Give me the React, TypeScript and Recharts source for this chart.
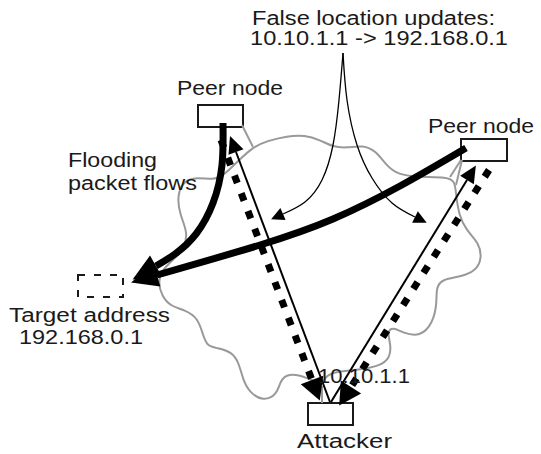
import { ComposedChart, XAxis, YAxis, Line, Scatter, ReferenceArea } from 'recharts';

type Pt = { x: number; y: number };
const pts = (a: number[][]): Pt[] => a.map(([x, y]) => ({ x, y }));

// gray outline of the network area
const CLOUD = pts([
  [253, 147], [267, 141], [287, 136], [305, 135], [320, 140], [333, 147], [347, 148],
  [363, 145], [376, 151], [386, 165], [398, 175], [420, 177], [447, 177], [455, 181],
  [456, 195], [459, 215], [466, 230], [479, 243], [482, 258], [476, 271], [460, 277],
  [443, 279], [436, 287], [437, 303], [433, 323], [420, 337], [403, 333], [393, 327],
  [387, 332], [391, 345], [390, 358], [380, 366], [357, 370], [333, 372], [325, 377],
  [322, 386], [307, 377], [288, 373], [280, 381], [277, 395], [263, 401], [250, 393],
  [243, 380], [239, 363], [232, 352], [217, 348], [207, 346], [203, 335], [198, 318],
  [185, 310], [170, 306], [162, 296], [158, 283], [162, 270], [173, 260], [184, 249],
  [188, 233], [180, 215], [177, 197], [183, 181], [197, 177], [213, 180], [223, 176],
  [238, 161],
]);
const TETHERS = [
  pts([[242, 125], [253, 147]]),
  pts([[461, 160], [450, 177]]),
  pts([[462, 160], [456, 185]]),
  pts([[322, 386], [322, 403]]),
];

// thick flooding flows (end = arrow base)
const FLOOD_TOP = pts([[223, 123], [222, 165], [213, 203], [196, 234], [175, 254], [156, 266]]);
const FLOOD_RIGHT = pts([[466, 148], [400, 186], [333, 219], [260, 245], [157, 275]]);

// false location update arrows from the label
const UPDATE_LEFT = pts([[343, 53], [339, 100], [333, 145], [322, 180], [305, 202], [283, 214]]);
const UPDATE_RIGHT = pts([[343, 53], [347, 100], [357, 145], [372, 178], [392, 203], [415, 217]]);

// attacker -> peers (thin)
const SPOOF_TOP = pts([[330, 402], [236, 152]]);
const SPOOF_RIGHT = pts([[331, 402], [467, 180]]);

// peers -> attacker (dashed)
const REPLY_TOP = pts([[221, 140], [312, 380]]);
const REPLY_RIGHT = pts([[489, 170], [351, 387]]);

const NODES = [
  { name: 'peerTop', x1: 198, x2: 243, y1: 105, y2: 127, dashed: false },
  { name: 'peerRight', x1: 461, x2: 507, y1: 139, y2: 161, dashed: false },
  { name: 'attacker', x1: 308, x2: 353, y1: 403, y2: 425, dashed: false },
  { name: 'target', x1: 78, x2: 123, y1: 275, y2: 297, dashed: true },
];

const LABELS = [
  { text: 'False location updates:', x: 252, y: 25 },
  { text: '10.10.1.1 -> 192.168.0.1', x: 250, y: 45 },
  { text: 'Peer node', x: 177, y: 95 },
  { text: 'Peer node', x: 428, y: 133 },
  { text: 'Flooding', x: 68, y: 167 },
  { text: 'packet flows', x: 68, y: 190 },
  { text: 'Target address', x: 9, y: 322 },
  { text: '192.168.0.1', x: 19, y: 344 },
  { text: '10.10.1.1', x: 318, y: 383 },
  { text: 'Attacker', x: 297, y: 448 },
];
const TEXT_WIDTH: Record<string, number> = {
  'False location updates:': 243,
  '10.10.1.1 -> 192.168.0.1': 258,
  'Peer node': 106,
  'Flooding': 89,
  'packet flows': 129,
  'Target address': 161,
  '192.168.0.1': 124,
  '10.10.1.1': 92,
  'Attacker': 95,
};

const W = 541;
const H = 454;

const Label = (p: any) => (
  <text
    x={p.cx}
    y={p.cy}
    fontSize={20}
    fontFamily="'Liberation Sans', Arial, sans-serif"
    fill="#1a1a1a"
    textLength={TEXT_WIDTH[p.payload.text]}
    lengthAdjust="spacingAndGlyphs"
  >
    {p.payload.text}
  </text>
);

const head = (id: string, len: number, half: number) => (
  <marker id={id} markerUnits="userSpaceOnUse" markerWidth={len * 2} markerHeight={half * 4} refX={0} refY={0} orient="auto" overflow="visible">
    <path d={`M0,${-half} L${len},0 L0,${half} Z`} fill="#000" />
  </marker>
);

const line = (data: Pt[], type: any, width: number, marker?: string, dash?: string, color = '#000') => (
  <Line
    data={data}
    dataKey="y"
    type={type}
    stroke={color}
    strokeWidth={width}
    strokeDasharray={dash}
    markerEnd={marker ? `url(#${marker})` : undefined}
    dot={false}
    activeDot={false}
    isAnimationActive={false}
  />
);

export default function App() {
  return (
    <div style={{ position: 'absolute', left: 0, top: 0, width: W, height: H, background: '#fff' }}>
      <svg width={0} height={0} style={{ position: 'absolute' }}>
        <defs>
          {head('hThick', 27, 12)}
          {head('hDash', 22, 12)}
          {head('hThin', 17, 8)}
          {head('hCurve', 13, 6.5)}
        </defs>
      </svg>
      <ComposedChart width={W} height={H} margin={{ top: 0, right: 0, bottom: 0, left: 0 }}>
        <XAxis dataKey="x" type="number" domain={[0, W]} hide allowDataOverflow />
        <YAxis type="number" domain={[0, H]} reversed hide allowDataOverflow />
        {line(CLOUD, 'basisClosed', 2, undefined, undefined, '#999')}
        {TETHERS.map((t) => line(t, 'linear', 2, undefined, undefined, '#999'))}
        <Scatter data={LABELS} dataKey="y" shape={Label} isAnimationActive={false} />
        {line(FLOOD_TOP, 'natural', 7, 'hThick')}
        {line(FLOOD_RIGHT, 'natural', 7, 'hThick')}
        {line(UPDATE_LEFT, 'natural', 1.3, 'hCurve')}
        {line(UPDATE_RIGHT, 'natural', 1.3, 'hCurve')}
        {line(SPOOF_TOP, 'linear', 2, 'hThin')}
        {line(SPOOF_RIGHT, 'linear', 2, 'hThin')}
        {line(REPLY_TOP, 'linear', 7, 'hDash', '8 11')}
        {line(REPLY_RIGHT, 'linear', 7, 'hDash', '8 11')}
        {NODES.map((n) => (
          <ReferenceArea
            key={n.name}
            x1={n.x1}
            x2={n.x2}
            y1={n.y1}
            y2={n.y2}
            fill="#fff"
            fillOpacity={1}
            stroke="#1a1a1a"
            strokeWidth={2}
            strokeDasharray={n.dashed ? '7 9' : undefined}
            ifOverflow="visible"
          />
        ))}
      </ComposedChart>
    </div>
  );
}
